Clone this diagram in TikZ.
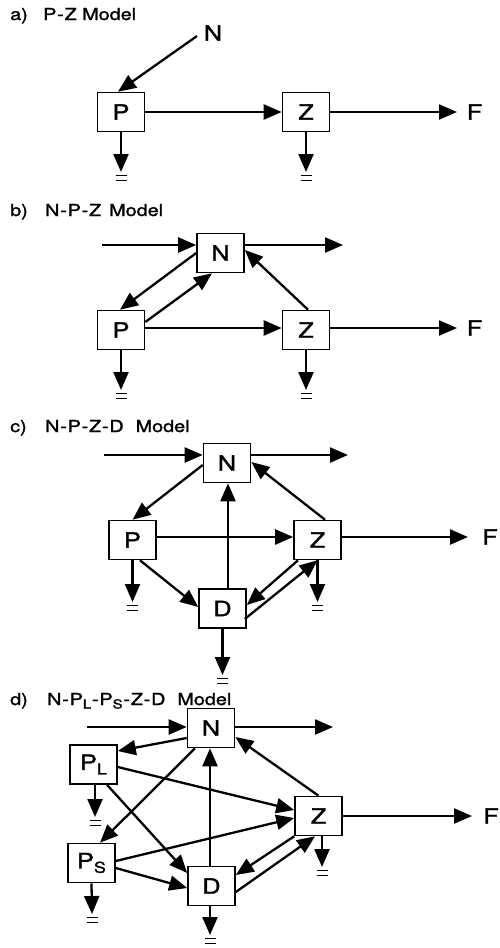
\documentclass[tikz,border=0pt]{standalone}
\usepackage{fontspec}
\setmainfont{TeX Gyre Heros}[FakeStretch=1.2, FakeBold=1.5]
\usetikzlibrary{arrows.meta,calc}

% hyphen with a little air around it, as in the panel titles
\newcommand\mhyph{\hspace{0.8pt}-\hspace{0.8pt}}
% subscript used inside the phytoplankton boxes
\newcommand\boxsub[1]{\raisebox{-4.5pt}{\fontsize{15}{15}\selectfont #1}}
% subscript used in the title
\newcommand\ttlsub[1]{\raisebox{-3.5pt}{\fontsize{12.5}{12.5}\selectfont #1}}

\tikzset{
  box/.style={draw, line width=1.6pt, minimum width=47pt, minimum height=39pt,
              inner sep=0pt, font=\fontsize{21}{21}\selectfont},
  lbl/.style={inner sep=0pt, font=\fontsize{21}{21}\selectfont},
  ttl/.style={anchor=base west, inner sep=0pt, font=\fontsize{16.5}{16.5}\selectfont},
  flow/.style={line width=2.3pt, -{Triangle[length=18pt,width=15pt]}},
  ground/.pic={\draw[line width=1.3pt] (-5.5,3.5) -- (5.5,3.5) (-5.5,8.5) -- (5.5,8.5);}
}

\begin{document}
\begin{tikzpicture}[x=1pt, y=-1pt]
\useasboundingbox (0,0) rectangle (500,948);

% ---------------- a) P-Z model ----------------
\node[ttl] (ta) at (10,20) {\makebox[33pt][l]{a)}P\mhyph Z Model};
\node[box] (aP) at (121,112) {P};
\node[box] (aZ) at (306,112) {Z};
\node[lbl] (aN) at (213,33) {N};
\node[lbl] (aF) at (474.5,112) {F};
\coordinate (aFtip) at (457,112);
\coordinate (ag1) at (121,172);
\coordinate (ag2) at (306,172);

\draw[flow] ($(aN)+(-16,3)$) -- ([xshift=-3pt]aP.north);
\draw[flow] (aP.east) -- (aZ.west);
\draw[flow] (aZ.east) -- (aFtip);
\draw[flow] (aP.south) -- (ag1);
\draw[flow] (aZ.south) -- (ag2);
\pic at (ag1) {ground};
\pic at (ag2) {ground};

% ---------------- b) N-P-Z model ----------------
\node[ttl] (tb) at (10,216) {\makebox[35pt][l]{b)}N\mhyph P\mhyph Z\hspace{8pt}Model};
\node[box] (bN) at (220.5,253) {N};
\node[box] (bP) at (121,330) {P};
\node[box] (bZ) at (306,330) {Z};
\node[lbl] (bF) at (474.5,328) {F};
\coordinate (bin)  at (102,245);
\coordinate (bout) at (343,245);
\coordinate (bFtip) at (457,328);
\coordinate (bg1) at (121,390);
\coordinate (bg2) at (306,390);

\draw[flow] (bin) -- ([yshift=8pt]bN.west);
\draw[flow] ([yshift=8pt]bN.east) -- (bout);
\draw[flow] (bN.west) -- ([xshift=-1pt]bP.north);
\draw[flow] ([yshift=8pt]bP.east) -- ([xshift=-8.5pt]bN.south);
\draw[flow] ([xshift=2pt]bZ.north) -- ([yshift=3pt]bN.east);
\draw[flow] ([yshift=2pt]bP.east) -- ([yshift=2pt]bZ.west);
\draw[flow] ([yshift=2pt]bZ.east) -- (bFtip);
\draw[flow] (bP.south) -- (bg1);
\draw[flow] (bZ.south) -- (bg2);
\pic at (bg1) {ground};
\pic at (bg2) {ground};

% ---------------- c) N-P-Z-D model ----------------
\node[ttl] (tc) at (10,432) {\makebox[35pt][l]{c)}N\mhyph P\mhyph Z\mhyph D\hspace{12pt}Model};
\node[box] (cN) at (227,463) {N};
\node[box] (cP) at (132.5,540) {P};
\node[box] (cZ) at (317.5,540) {Z};
\node[box] (cD) at (222.5,608.5) {D};
\node[lbl] (cF) at (490,537) {F};
\coordinate (cin)  at (104,455);
\coordinate (cout) at (348,455);
\coordinate (cFtip) at (468,537);
\coordinate (cg1) at (132.5,602);
\coordinate (cg2) at (317.5,602);
\coordinate (cg3) at (222.5,675);

\draw[flow] (cin) -- ([yshift=8pt]cN.west);
\draw[flow] ([yshift=8pt]cN.east) -- (cout);
\draw[flow] ([yshift=-2pt]cN.west) -- (cP.north);
\draw[flow] ([xshift=7.5pt]cZ.north) -- ([yshift=1pt]cN.east);
\draw[flow] ([xshift=5.5pt]cD.north) -- ([xshift=5.5pt]cD.north |- cN.south);
\draw[flow] ([yshift=3pt]cP.east) -- ([yshift=3pt]cZ.west);
\draw[flow] ([yshift=3pt]cZ.east) -- (cFtip);
\draw[flow] ([xshift=7.5pt]cP.south) -- ([yshift=1.5pt]cD.west);
\draw[flow] ([xshift=-19.5pt]cZ.south) -- ([yshift=3.5pt]cD.east);
\draw[flow] ([xshift=-2pt,yshift=-10.5pt]cD.east) -- (cZ.south);
\draw[flow] (cP.south) -- (cg1);
\draw[flow] (cZ.south) -- (cg2);
\draw[flow] (cD.south) -- (cg3);
\pic at (cg1) {ground};
\pic at (cg2) {ground};
\pic at (cg3) {ground};

% ---------------- d) N-PL-PS-Z-D model ----------------
\node[ttl] (td) at (10,705) {\makebox[37pt][l]{d)}N\mhyph P\ttlsub{L}\mhyph P\ttlsub{S}\mhyph Z\mhyph D\hspace{12pt}Model};
\node[box] (dN)  at (211,728) {N};
\node[box] (dPL) at (93.5,764.5) {P\boxsub{L}};
\node[box] (dPS) at (91.5,863) {P\boxsub{S}};
\node[box] (dZ)  at (318.5,816) {Z};
\node[box] (dD)  at (211.5,886) {D};
\node[lbl] (dF)  at (491,816) {F};
\coordinate (din)  at (87,727);
\coordinate (dout) at (333,727);
\coordinate (dFtip) at (472,816);
\coordinate (dg1) at (95,817);
\coordinate (dg2) at (92,914);
\coordinate (dg3) at (322,867);
\coordinate (dg4) at (210,935);

\draw[flow] (din) -- ([yshift=1pt]dN.west);
\draw[flow] ([yshift=1pt]dN.east) -- (dout);
\draw[flow] ([yshift=-10pt]dN.west) -- ([yshift=13.5pt]dPL.east);
\draw[flow] ([xshift=-16pt]dN.south) -- ([xshift=8.5pt]dPS.north);
\draw[flow] ([xshift=-1.5pt]dD.north) -- ([xshift=-1.5pt]dD.north |- dN.south);
\draw[flow] (dZ.north) -- ([yshift=-9pt]dN.east);
\draw[flow] ([yshift=-2.5pt]dPL.east) -- ([yshift=6pt]dZ.west);
\draw[flow] ([yshift=2pt]dPS.east) -- ([yshift=-2pt]dZ.west);
\draw[flow] ([xshift=13.5pt]dPL.south) -- ([yshift=13pt]dD.west);
\draw[flow] ([yshift=-5pt]dPS.east) -- ([yshift=-2pt]dD.west);
\draw[flow] (dZ.south west) -- ([yshift=11pt]dD.east);
\draw[flow] ([yshift=-6pt]dD.east) -- ([xshift=-3.5pt]dZ.south);
\draw[flow] (dZ.east) -- (dFtip);
\draw[flow] ([xshift=1.5pt]dPL.south) -- (dg1);
\draw[flow] (dPS.south) -- (dg2);
\draw[flow] ([xshift=3.5pt]dZ.south) -- (dg3);
\draw[flow] ([xshift=-1.5pt]dD.south) -- (dg4);
\pic at (dg1) {ground};
\pic at (dg2) {ground};
\pic at (dg3) {ground};
\pic at (dg4) {ground};
\end{tikzpicture}
\end{document}
